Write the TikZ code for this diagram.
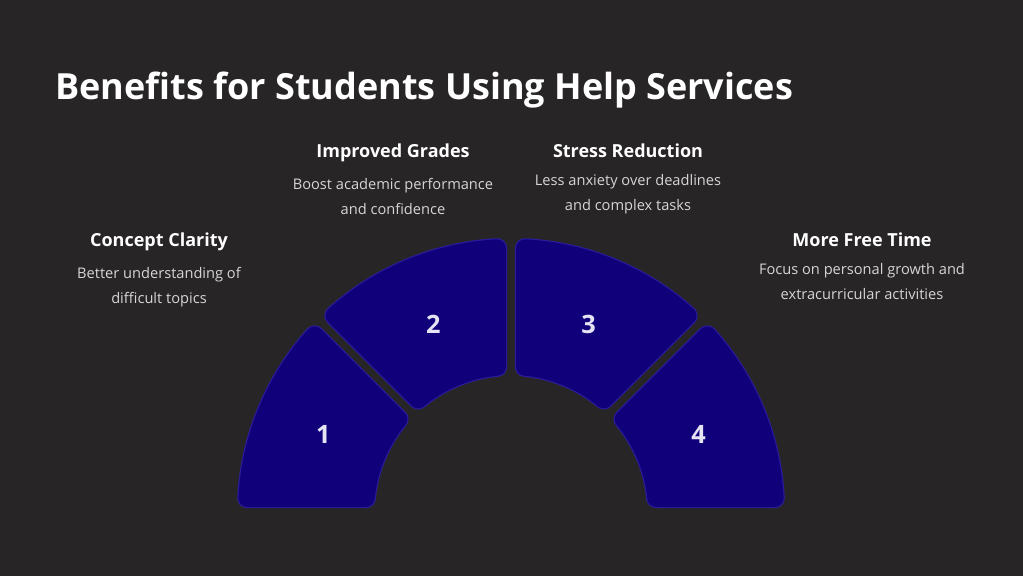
\documentclass[tikz,border=0pt]{standalone}
\usepackage{fontspec}
\setmainfont{Open Sans}
\usetikzlibrary{positioning, calc}
\definecolor{bgdark}{HTML}{272526}
\definecolor{segfill}{HTML}{10007A}
\definecolor{segedge}{HTML}{2A1C9C}
\definecolor{desctext}{HTML}{D6D6D6}
\definecolor{numtext}{HTML}{E6E4F4}

\begin{document}
\begin{tikzpicture}[x=0.025cm, y=0.025cm, node distance=0.38cm, auto]
    \tikzstyle{heading} = [text=white, font=\bfseries\fontsize{12.8}{15}\selectfont, inner sep=0pt, anchor=base]
    \tikzstyle{desc} = [text=desctext, font=\fontsize{10.4}{17.8}\selectfont, align=center, inner sep=0pt]
    \tikzstyle{number} = [text=numtext, font=\bfseries\fontsize{18}{20}\selectfont]
    \tikzstyle{segment} = [draw=segfill, fill=segfill, line width=0.45cm, line join=round,
        preaction={draw=segedge, line width=0.51cm, line join=round}]

    \fill[bgdark] (0,0) rectangle (1023,576);
    \useasboundingbox (0,0) rectangle (1023,576);
    \coordinate (c) at (511,64);

    \node[anchor=base west, text=white, font=\bfseries\fontsize{25.6}{30}\selectfont, inner sep=0pt] (title) at (55,476) {Benefits for Students Using Help Services};

    \foreach \i/\lo/\hi in {1/135/180, 2/90/135, 3/45/90, 4/0/45} {
        \pgfmathsetmacro{\din}{asin(14/146)}
        \pgfmathsetmacro{\dout}{asin(14/264)}
        \pgfmathsetmacro{\loin}{\lo+\din}
        \pgfmathsetmacro{\hiin}{\hi-\din}
        \pgfmathsetmacro{\loout}{\lo+\dout}
        \pgfmathsetmacro{\hiout}{\hi-\dout}
        \pgfmathsetmacro{\mid}{(\lo+\hi)/2}
        \path[segment] ($(c)+(\loin:146)$) -- ($(c)+(\loout:264)$)
            arc[start angle=\loout, end angle=\hiout, radius=264]
            -- ($(c)+(\hiin:146)$)
            arc[start angle=\hiin, end angle=\loin, radius=146] -- cycle;
        \node[number] (num\i) at ($(c)+(\mid:203)$) {\i};
    }

    \node[heading] (clarity) at (159,329) {Concept Clarity};
    \node[desc, below=of clarity] (claritytext) {Better understanding of\\difficult topics};
    \node[heading] (grades) at (393,418) {Improved Grades};
    \node[desc, below=of grades] (gradestext) {Boost academic performance\\and confidence};
    \node[heading] (stress) at (628,418) {Stress Reduction};
    \node[desc, below=of stress] (stresstext) {Less anxiety over deadlines\\and complex tasks};
    \node[heading] (freetime) at (862,329) {More Free Time};
    \node[desc, below=of freetime] (freetimetext) {Focus on personal growth and\\extracurricular activities};
\end{tikzpicture}
\end{document}
